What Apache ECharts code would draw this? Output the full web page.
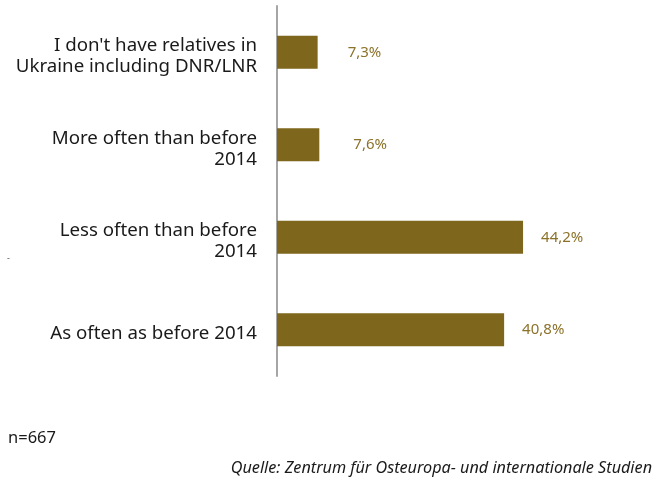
<!DOCTYPE html>
<html>
<head>
<meta charset="utf-8">
<script src="https://cdn.jsdelivr.net/npm/echarts@6/dist/echarts.min.js"></script>
<style>
  html, body { margin: 0; padding: 0; background: #fff; }
  #chart { width: 666px; height: 485px; }
</style>
</head>
<body>
<div id="chart"></div>
<script>
// Contact with relatives in Ukraine (shares in %)
const categories = [
  "I don't have relatives in\nUkraine including DNR/LNR",
  "More often than before\n2014",
  "Less often than before\n2014",
  "As often as before 2014"
];
const values = [7.3, 7.6, 44.2, 40.8];
const labelGaps = [30, 34, 18, 18];

const fmt = v => v.toFixed(1).replace('.', ',') + '%';

const chart = echarts.init(document.getElementById('chart'), null, { renderer: 'canvas' });
chart.setOption({
  animation: false,
  backgroundColor: '#ffffff',
  textStyle: { fontFamily: 'Noto Sans' },
  grid: { left: 277, top: 6, width: 334, height: 370, containLabel: false },
  xAxis: {
    type: 'value', min: 0, max: 60,
    show: false
  },
  yAxis: {
    type: 'category',
    data: categories,
    inverse: true,
    axisLine: { show: true, lineStyle: { color: '#a6a6a6', width: 2 } },
    axisTick: { show: false },
    axisLabel: {
      margin: 20, color: '#1a1a1a', fontSize: 18.7, lineHeight: 21,
      fontFamily: 'Noto Sans', align: 'right',
      // a thin spacer line on top nudges the label block slightly downward
      formatter: v => '{s| }\n' + v.split('\n').map(l => '{t|' + l + '}').join('\n'),
      rich: {
        s: { fontSize: 1, lineHeight: 8 },
        t: { fontSize: 18.7, lineHeight: 21, color: '#1a1a1a', fontFamily: 'Noto Sans' }
      }
    }
  },
  series: [{
    type: 'bar',
    barWidth: 33,
    itemStyle: { color: '#7e661c' },
    data: values.map((v, i) => ({
      value: v,
      label: { distance: labelGaps[i] }
    })),
    label: {
      show: true, position: 'right', color: '#8c722a', fontSize: 15,
      fontFamily: 'Noto Sans', padding: [2, 0, 0, 0],
      formatter: p => fmt(p.value)
    }
  }],
  graphic: [
    { type: 'text', left: 7, top: 254, style: { text: '-', fontSize: 9, fill: '#555', fontFamily: 'Noto Sans' } },
    { type: 'text', left: 8, top: 430, style: { text: 'n=667', fontSize: 16.5, fill: '#1a1a1a', fontFamily: 'Noto Sans' } },
    { type: 'text', right: 14, top: 460, style: { text: 'Quelle: Zentrum für Osteuropa- und internationale Studien', fontSize: 16.2, fontStyle: 'italic', fill: '#1a1a1a', fontFamily: 'Noto Sans' } }
  ]
});
</script>
</body>
</html>
